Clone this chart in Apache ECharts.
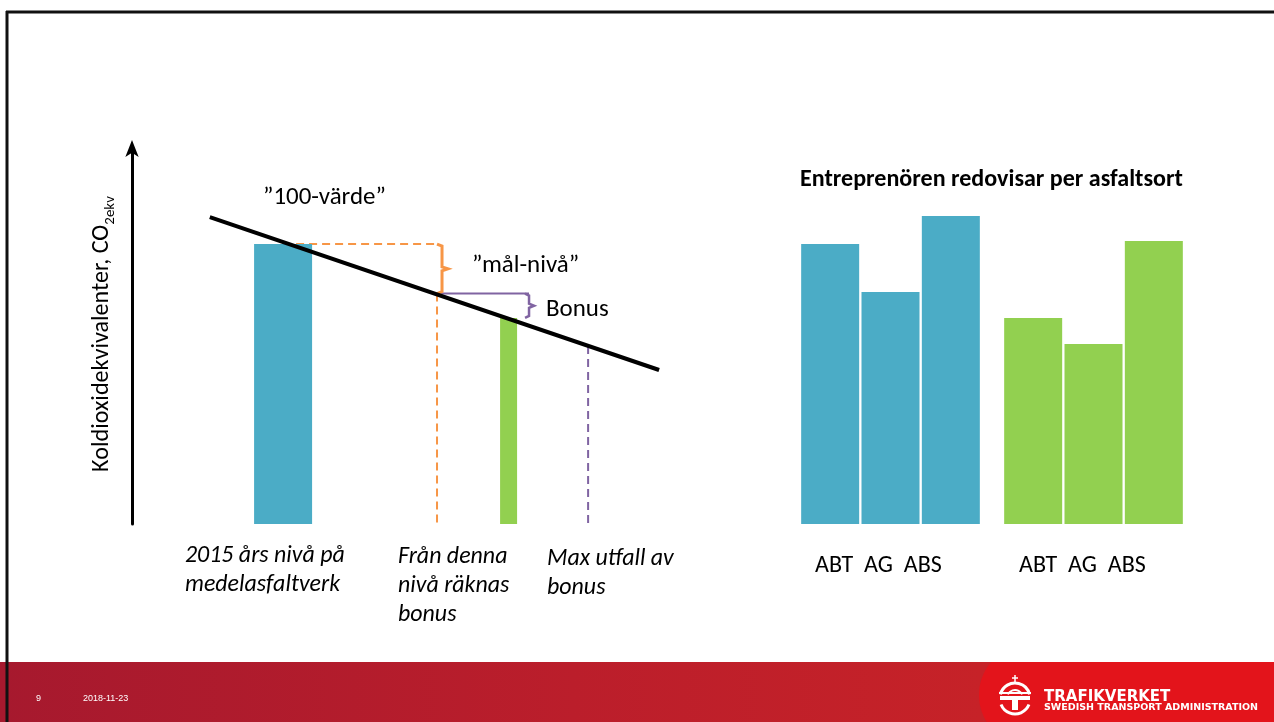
<!DOCTYPE html>
<html>
<head>
<meta charset="utf-8">
<script src="https://cdn.jsdelivr.net/npm/echarts@6/dist/echarts.min.js"></script>
<style>
  html, body { margin: 0; padding: 0; background: #ffffff; }
  #chart { width: 1274px; height: 722px; }
</style>
</head>
<body>
<div id="chart"></div>
<script>
// ---------- DATA ----------
// Left schematic: x = position along the time line (arbitrary units), y = CO2e index (2015 level = 100)
const referenceBar = [[26.6, 100]];          // 2015 level (blue)
const resultBar = [[66.3, 73.6]];            // contractor result (green)
const trendLine = [[13.7, 109.6], [92.8, 55.0]];
const targetPoint = [53.7, 82.3];            // "mål-nivå" – bonus counted from here
const bonusBracketX = 69.9;
const maxBonusPoint = [80.3, 63.6];          // max bonus outcome
const annotationLabels = ['\u201D100-värde\u201D', '\u201Dmål-nivå\u201D', 'Bonus'];
const bottomLabels = ['2015 års nivå på\nmedelasfaltverk', 'Från denna\nnivå räknas\nbonus', 'Max utfall av\nbonus'];
const yAxisTitle = 'Koldioxidekvivalenter, CO';
const yAxisSub = '2ekv';

// Right chart: per asphalt type
const rightTitle = 'Entreprenören redovisar per asfaltsort';
const categories = ['ABT', 'AG', 'ABS'];
const blueValues = [100, 82.9, 110.0];
const greenValues = [73.6, 64.3, 101.1];

// Footer
const pageNumber = '9';
const pageDate = '2018-11-23';
const brandName = 'TRAFIKVERKET';
const brandSub = 'SWEDISH TRANSPORT ADMINISTRATION';

// ---------- STYLE ----------
const FONT = 'Carlito, Lato, "Open Sans", sans-serif';
const BLUE = '#4bacc6', GREEN = '#92d050', ORANGE = '#f79646', PURPLE = '#8064a2';
const Y_MAX = 134.3;

// font-size fitting so text spans the same width as in the slide
const mctx = document.createElement('canvas').getContext('2d');
function textW(text, size, weight, style) {
  mctx.font = (style || 'normal') + ' ' + (weight || 'normal') + ' ' + size + 'px ' + FONT;
  return mctx.measureText(text).width;
}
function fit(text, targetW, weight, style) {
  return 100 * targetW / textW(text, 100, weight, style);
}
const annSize = (fit(annotationLabels[0], 122) + fit(annotationLabels[1], 111) + fit(annotationLabels[2], 61)) / 3;
const italSize = (fit('2015 års nivå på', 159, 'normal', 'italic') + fit('nivå räknas', 111, 'normal', 'italic') +
                  fit('Max utfall av', 128, 'normal', 'italic')) / 3;
const titleSize = fit(rightTitle, 383, 'bold');
const catSize = fit(categories.join('  '), 127);
const yMainSize = 100 * 276 / (textW(yAxisTitle, 100) + textW(yAxisSub, 62));
const ySubSize = yMainSize * 0.62;

const chart = echarts.init(document.getElementById('chart'), null, { renderer: 'canvas' });

function bracket(color, width, dx, hook, tick) {
  return {
    type: 'custom',
    xAxisIndex: 0, yAxisIndex: 0,
    silent: true, z: 4,
    renderItem: function (params, api) {
      const top = api.coord([api.value(0), api.value(1)]);
      const bot = api.coord([api.value(0), api.value(2)]);
      const x = top[0] + dx;
      const mid = (top[1] + bot[1]) / 2;
      const pts = [
        [x - hook, top[1]], [x, top[1] + 2], [x, mid - 2], [x + tick, mid],
        [x, mid + 2], [x, bot[1] - 2], [x - hook, bot[1]]
      ];
      return { type: 'polyline', shape: { points: pts }, style: { stroke: color, lineWidth: width, fill: null } };
    }
  };
}

// footer logo plate polygon (decoration)
const platePts = [[1274, 662]];
for (let y = 662; y <= 722; y += 2) {
  platePts.push([1030 - Math.sqrt(51 * 51 - (y - 695) * (y - 695)), y]);
}
platePts.push([1274, 722]);

const W = '#ffffff';
const option = {
  backgroundColor: '#ffffff',
  animation: false,
  grid: [
    { left: 132, top: 148, width: 568, height: 376 },
    { left: 800, top: 148, width: 181, height: 376 },
    { left: 1003, top: 148, width: 181, height: 376 }
  ],
  xAxis: [
    { type: 'value', gridIndex: 0, min: 0, max: 100, show: false },
    { type: 'category', gridIndex: 1, data: categories, show: false },
    { type: 'category', gridIndex: 2, data: categories, show: false },
    { type: 'value', gridIndex: 0, min: 0, max: 100, show: false }
  ],
  yAxis: [
    {
      type: 'value', gridIndex: 0, min: 0, max: Y_MAX,
      axisLine: { show: true, symbol: ['none', 'arrow'], symbolSize: [10, 17], symbolOffset: [0, 8],
                  lineStyle: { color: '#000', width: 3 } },
      axisTick: { show: false }, axisLabel: { show: false }, splitLine: { show: false }
    },
    { type: 'value', gridIndex: 1, min: 0, max: Y_MAX, show: false, splitLine: { show: false } },
    { type: 'value', gridIndex: 2, min: 0, max: Y_MAX, show: false, splitLine: { show: false } }
  ],
  series: [
    // orange dashed horizontal at the 100-level
    { type: 'line', xAxisIndex: 0, yAxisIndex: 0, symbol: 'none', z: 1, silent: true,
      data: [[referenceBar[0][0], referenceBar[0][1]], [targetPoint[0], referenceBar[0][1]]],
      lineStyle: { color: ORANGE, width: 2, type: [8, 5] } },
    // blue 2015 bar
    { type: 'bar', xAxisIndex: 0, yAxisIndex: 0, barWidth: 58, z: 2, silent: true,
      itemStyle: { color: BLUE }, data: referenceBar },
    // green result bar
    { type: 'bar', xAxisIndex: 3, yAxisIndex: 0, barWidth: 17, z: 2, silent: true,
      itemStyle: { color: GREEN }, data: resultBar },
    // orange dashed vertical from target level
    { type: 'line', xAxisIndex: 0, yAxisIndex: 0, symbol: 'none', z: 1, silent: true,
      data: [[targetPoint[0], targetPoint[1]], [targetPoint[0], 0]],
      lineStyle: { color: ORANGE, width: 2, type: [8, 5] } },
    // purple dashed vertical at max bonus
    { type: 'line', xAxisIndex: 0, yAxisIndex: 0, symbol: 'none', z: 1, silent: true,
      data: [[maxBonusPoint[0], maxBonusPoint[1]], [maxBonusPoint[0], 0]],
      lineStyle: { color: PURPLE, width: 2, type: [8, 5] } },
    // purple solid horizontal from target to bonus bracket
    { type: 'line', xAxisIndex: 0, yAxisIndex: 0, symbol: 'none', z: 3, silent: true,
      data: [[targetPoint[0], targetPoint[1]], [bonusBracketX, targetPoint[1]]],
      lineStyle: { color: PURPLE, width: 2 } },
    // brackets
    Object.assign(bracket(ORANGE, 3, 5, 5, 6), { data: [[targetPoint[0], referenceBar[0][1], targetPoint[1]]] }),
    Object.assign(bracket(PURPLE, 2.5, 0, 4, 5), { data: [[bonusBracketX, targetPoint[1], resultBar[0][1]]] }),
    // black trend line
    { type: 'line', xAxisIndex: 0, yAxisIndex: 0, symbol: 'none', z: 5, silent: true,
      data: trendLine, lineStyle: { color: '#000', width: 4 } },
    // right chart bars
    { type: 'bar', xAxisIndex: 1, yAxisIndex: 1, barWidth: 58, silent: true,
      itemStyle: { color: BLUE }, data: blueValues },
    { type: 'bar', xAxisIndex: 2, yAxisIndex: 2, barWidth: 58, silent: true,
      itemStyle: { color: GREEN }, data: greenValues }
  ],
  graphic: [
    // footer band
    { type: 'rect', z: 0, shape: { x: 0, y: 662, width: 1274, height: 60 },
      style: { fill: new echarts.graphic.LinearGradient(0, 0, 1, 0, [
        { offset: 0, color: '#a6192e' }, { offset: 0.45, color: '#bb1e2b' },
        { offset: 0.77, color: '#c62228' }, { offset: 1, color: '#c9232a' }]) } },
    { type: 'polygon', z: 1, shape: { points: platePts }, style: { fill: '#e3141b' } },
    { type: 'text', z: 2, x: 36, y: 699, style: { text: pageNumber, fill: W,
      font: '9px "Liberation Sans", Arial, sans-serif', verticalAlign: 'middle' } },
    { type: 'text', z: 2, x: 83, y: 699, style: { text: pageDate, fill: W,
      font: '9px "Liberation Sans", Arial, sans-serif', verticalAlign: 'middle' } },
    { type: 'text', z: 2, x: 1044, y: 697, style: { text: brandName, fill: W,
      font: 'bold 15px "DejaVu Sans", sans-serif', verticalAlign: 'middle' } },
    { type: 'text', z: 2, x: 1044, y: 708, style: { text: brandSub, fill: W,
      font: 'bold 9.5px "DejaVu Sans", sans-serif', verticalAlign: 'middle' } },
    // crown + T logo
    { type: 'line', z: 3, shape: { x1: 1015, y1: 675, x2: 1015, y2: 684 }, style: { stroke: W, lineWidth: 1.5 } },
    { type: 'line', z: 3, shape: { x1: 1012, y1: 678, x2: 1018, y2: 678 }, style: { stroke: W, lineWidth: 1.5 } },
    { type: 'arc', z: 3, shape: { cx: 1015, cy: 698, r: 15, startAngle: Math.PI * 1.08, endAngle: Math.PI * 1.92 },
      style: { stroke: W, lineWidth: 3, fill: null } },
    { type: 'arc', z: 3, shape: { cx: 1015, cy: 698, r: 8, startAngle: Math.PI * 1.15, endAngle: Math.PI * 1.85 },
      style: { stroke: W, lineWidth: 2, fill: null } },
    { type: 'rect', z: 3, shape: { x: 999, y: 692, width: 32, height: 2 }, style: { fill: W } },
    { type: 'rect', z: 3, shape: { x: 1000, y: 696, width: 30, height: 4 }, style: { fill: W } },
    { type: 'rect', z: 3, shape: { x: 1012, y: 696, width: 6, height: 14 }, style: { fill: W } },
    { type: 'arc', z: 3, shape: { cx: 1015, cy: 699, r: 15, startAngle: Math.PI * 0.12, endAngle: Math.PI * 0.88 },
      style: { stroke: W, lineWidth: 3, fill: null } },
    // slide frame
    { type: 'line', z: 10, shape: { x1: 6, y1: 12, x2: 1274, y2: 12 }, style: { stroke: '#111', lineWidth: 3 } },
    { type: 'line', z: 10, shape: { x1: 7, y1: 11, x2: 7, y2: 722 }, style: { stroke: '#111', lineWidth: 3 } },
    // y-axis title (rotated)
    { type: 'text', z: 5, x: 104, y: 334, rotation: Math.PI / 2,
      style: { text: '{a|' + yAxisTitle + '}{s|' + yAxisSub + '}', align: 'center', verticalAlign: 'middle',
        rich: { a: { fontFamily: FONT, fontSize: yMainSize, lineHeight: yMainSize * 1.15, verticalAlign: 'top', fill: '#000' },
                s: { fontFamily: FONT, fontSize: ySubSize, lineHeight: ySubSize, verticalAlign: 'bottom', fill: '#000' } } } },
    // annotation labels
    { type: 'text', z: 5, x: 263, y: 198, style: { text: annotationLabels[0], fill: '#000',
      fontFamily: FONT, fontSize: annSize, verticalAlign: 'middle' } },
    { type: 'text', z: 5, x: 472, y: 266, style: { text: annotationLabels[1], fill: '#000',
      fontFamily: FONT, fontSize: annSize, verticalAlign: 'middle' } },
    { type: 'text', z: 5, x: 546, y: 310, style: { text: annotationLabels[2], fill: '#000',
      fontFamily: FONT, fontSize: annSize, verticalAlign: 'middle' } },
    // bottom italic labels
    { type: 'text', z: 5, x: 185, y: 541, style: { text: bottomLabels[0], fill: '#000',
      fontFamily: FONT, fontSize: italSize, fontStyle: 'italic', lineHeight: 29.5, verticalAlign: 'top' } },
    { type: 'text', z: 5, x: 398, y: 543, style: { text: bottomLabels[1], fill: '#000',
      fontFamily: FONT, fontSize: italSize, fontStyle: 'italic', lineHeight: 29, verticalAlign: 'top' } },
    { type: 'text', z: 5, x: 547, y: 545, style: { text: bottomLabels[2], fill: '#000',
      fontFamily: FONT, fontSize: italSize, fontStyle: 'italic', lineHeight: 29, verticalAlign: 'top' } },
    // right chart title and category labels
    { type: 'text', z: 5, x: 800, y: 180, style: { text: rightTitle, fill: '#000',
      fontFamily: FONT, fontSize: titleSize, fontWeight: 'bold', verticalAlign: 'middle' } },
    { type: 'text', z: 5, x: 815, y: 566, style: { text: categories.join('  '), fill: '#000',
      fontFamily: FONT, fontSize: catSize, verticalAlign: 'middle' } },
    { type: 'text', z: 5, x: 1019, y: 566, style: { text: categories.join('  '), fill: '#000',
      fontFamily: FONT, fontSize: catSize, verticalAlign: 'middle' } }
  ]
};

chart.setOption(option);
</script>
</body>
</html>
